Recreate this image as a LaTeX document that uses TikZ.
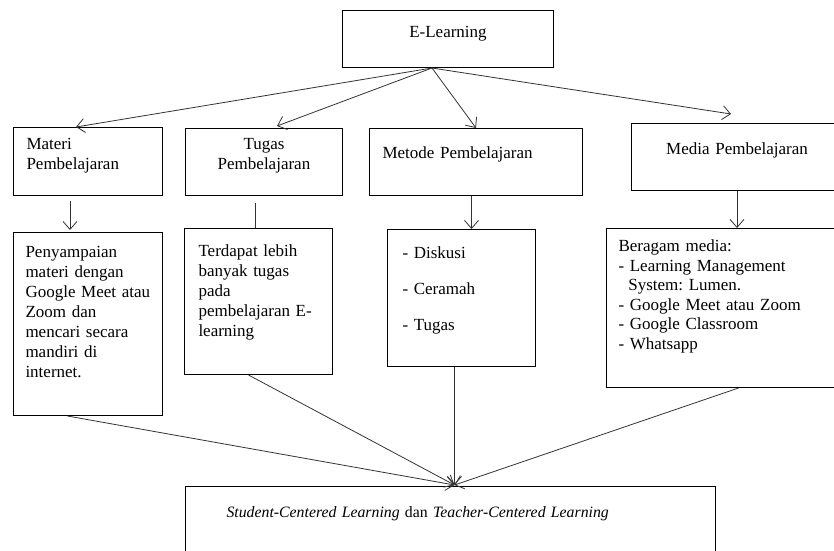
\documentclass[tikz,border=0pt]{standalone}
\usepackage{fontspec}
\setmainfont{Liberation Serif}
\usetikzlibrary{arrows.meta,positioning,calc}
\frenchspacing

\begin{document}
\begin{tikzpicture}[
    x=1pt, y=-1pt,
    box/.style={draw, rectangle, anchor=north west, inner ysep=0pt, inner xsep=13pt, align=left, line width=1pt, font=\fontsize{17}{20}\selectfont},
    arrow/.style={-{Straight Barb[length=8pt,width=14pt]}, line width=0.8pt, draw=black!80},
    link/.style={line width=0.8pt, draw=black!80}
]
\useasboundingbox (0,0) rectangle (834,550);
\clip (0,0) rectangle (834,550);

% Top
\node[box, align=center, inner xsep=10pt, text width=191pt, text height=27pt, text depth=30pt] (elearn) at (342,10) {E-Learning};

% First row
\node[box, text width=123pt, text height=22pt, text depth=46pt] (materi) at (13,127) {Materi\\Pembelajaran};

\node[box, align=center, inner xsep=10pt, text width=137pt, text height=21pt, text depth=46pt] (tugas) at (185,128) {Tugas\\Pembelajaran};

\node[box, text width=187pt, text height=30pt, text depth=37pt] (metode) at (369,128) {Metode Pembelajaran};

\node[box, align=center, inner xsep=10pt, text width=191pt, text height=31pt, text depth=36pt] (media) at (631,123) {Media Pembelajaran};

% Second row
\node[box, inner xsep=12pt, text width=125pt, text height=25pt, text depth=158pt] (penyampaian) at (13,232) {Penyampaian\\materi dengan\\Google Meet atau\\Zoom dan\\mencari secara\\mandiri di\\internet.};

\node[box, inner xsep=14pt, text width=120pt, text height=28pt, text depth=118pt] (terdapat) at (184,228) {Terdapat lebih\\banyak tugas\\pada\\pembelajaran E-\\learning};

\node[box, inner xsep=15pt, text width=118pt, text height=29pt, text depth=108pt] (diskusi) at (387,229) {- Diskusi\\[16pt]- Ceramah\\[16pt]- Tugas};

\node[box, inner xsep=12pt, text width=240pt, text height=23pt, text depth=136pt, font=\fontsize{17}{19.6}\selectfont] (beragam) at (606,228) {Beragam media:\\- Learning Management\\\hspace*{0.58em}System: Lumen.\\- Google Meet atau Zoom\\- Google Classroom\\- Whatsapp};

% Bottom
\node[box, inner xsep=41pt, text width=448pt, text height=31pt, text depth=58pt, font=\fontsize{15.8}{19}\selectfont] (final) at (185,486) {\textit{Student-Centered Learning} dan \textit{Teacher-Centered Learning}};

\coordinate (hub) at ($(elearn.south)+(-16,0)$);
\coordinate (meet) at ($(final.north)+(4,-1)$);

% Arrows
\draw[arrow] (hub) -- ($(materi.north)+(-12,0)$);
\draw[arrow] (hub) -- ($(tugas.north)+(13,-2)$);
\draw[arrow] (hub) -- (metode.north);
\draw[arrow] (hub) -- ($(media.north)+(-6,-9)$);

\draw[arrow] ($(materi.south)+(-18,5)$) -- ($(penyampaian.north)+(-18,-2)$);
\draw[link] ($(tugas.south)+(-8.5,7)$) -- ($(terdapat.north)+(-3,0)$);
\draw[arrow] ($(metode.south)+(-4.5,0)$) -- ($(diskusi.north)+(10,0)$);
\draw[arrow] (media.south) -- ($(beragam.north)+(-1.5,0)$);

\draw[arrow] ($(penyampaian.south)+(-20.5,0)$) -- (meet);
\draw[arrow] ($(terdapat.south)+(-10,0)$) -- (meet);
\draw[arrow] ($(diskusi.south)+(-7,0)$) -- (meet);
\draw[arrow] (beragam.south) -- (meet);

\end{tikzpicture}
\end{document}
